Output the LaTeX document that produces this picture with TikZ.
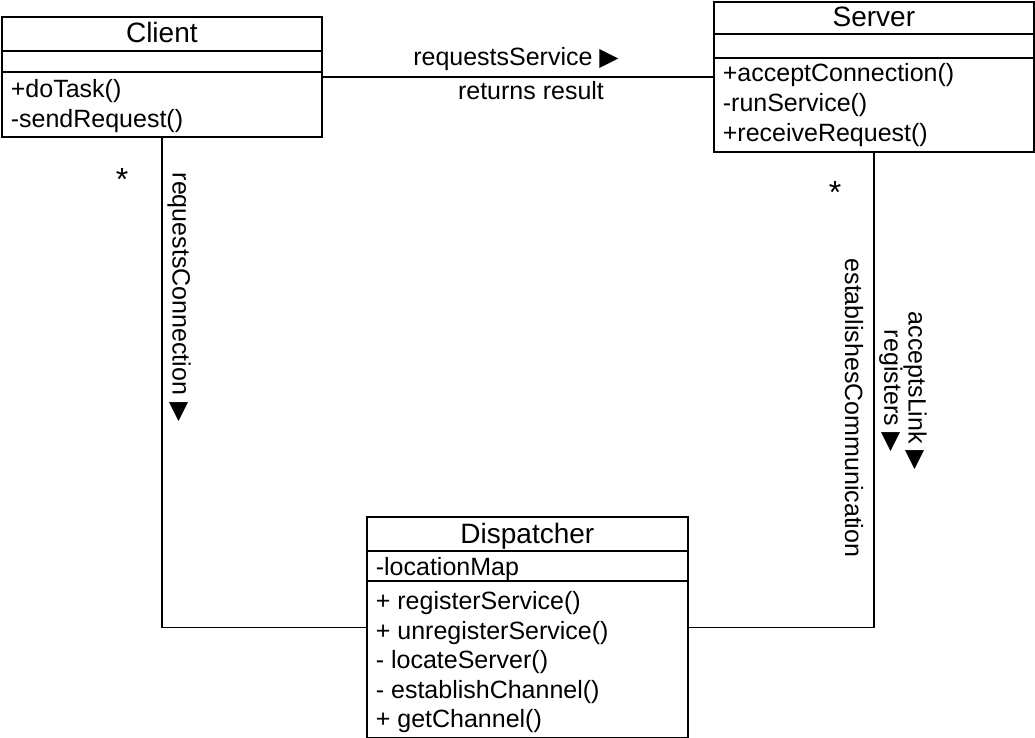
\documentclass[tikz,border=0pt]{standalone}
\usepackage{fontspec}
\setmainfont{Liberation Sans}
\newfontfamily\symfont{DejaVu Sans}
\newcommand{\navtri}{{\symfont\fontsize{25}{25}\selectfont ▶}}

\begin{document}
\begin{tikzpicture}[x=1pt,y=-1pt, line width=1.7pt,
  classbox/.style={draw, rectangle, inner sep=0pt, anchor=north west},
  classtitle/.style={font=\fontsize{28}{30}\selectfont, anchor=base, inner sep=0pt},
  member/.style={font=\fontsize{25}{27}\selectfont, anchor=base west, inner sep=0pt},
  lbl/.style={font=\fontsize{25}{23}\selectfont, inner sep=0pt, align=center},
  mult/.style={font=\fontsize{32}{32}\selectfont, inner sep=0pt, anchor=base},
]
\useasboundingbox (0,0) rectangle (1035,738);

% Client class
\node[classbox, minimum width=320pt, minimum height=120pt] (client) at (1,16) {};
\draw (client.west |- 0,51) -- (client.east |- 0,51);
\draw (client.west |- 0,72) -- (client.east |- 0,72);
\node[classtitle] (clientT) at (client.center |- 0,43) {Client};
\node[member] (cm1) at (10,98) {+doTask()};
\node[member] (cm2) at (10,128) {-sendRequest()};

% Server class
\node[classbox, minimum width=320pt, minimum height=150pt] (server) at (713,1) {};
\draw (server.west |- 0,34) -- (server.east |- 0,34);
\draw (server.west |- 0,58) -- (server.east |- 0,58);
\node[classtitle] (serverT) at (server.center |- 0,27) {Server};
\node[member] (sm1) at (722,82) {+acceptConnection()};
\node[member] (sm2) at (722,112) {-runService()};
\node[member] (sm3) at (722,142) {+receiveRequest()};

% Dispatcher class
\node[classbox, minimum width=321pt, minimum height=221pt] (disp) at (366,516) {};
\draw (disp.west |- 0,551) -- (disp.east |- 0,551);
\draw (disp.west |- 0,581) -- (disp.east |- 0,581);
\node[classtitle] (dispT) at (disp.center |- 0,543) {Dispatcher};
\node[member] (da1) at (375,575) {-locationMap};
\node[member] (dm1) at (375,609) {+ registerService()};
\node[member] (dm2) at (375,639) {+ unregisterService()};
\node[member] (dm3) at (375,668) {- locateServer()};
\node[member] (dm4) at (375,698) {- establishChannel()};
\node[member] (dm5) at (375,727) {+ getChannel()};

% Associations
\draw (client) -- (server);
\draw (client.south) |- (disp.west);
\draw (server.south) |- (disp.east);

% Association labels
\node[lbl, anchor=base] (lrs) at (516,66) {requestsService \navtri};
\node[lbl, anchor=base] (lrr) at (531,100) {returns result};
\node[mult] (star1) at (122,190) {*};
\node[mult] (star2) at (835,203) {*};
\node[lbl, rotate=-90] (lrc) at (179,297) {requestsConnection \navtri};
\node[lbl, rotate=-90] (lec) at (854,408) {establishesCommunication};
\node[lbl, rotate=-90] (lal) at (903,391) {acceptsLink \navtri\\registers \navtri};
\end{tikzpicture}
\end{document}
